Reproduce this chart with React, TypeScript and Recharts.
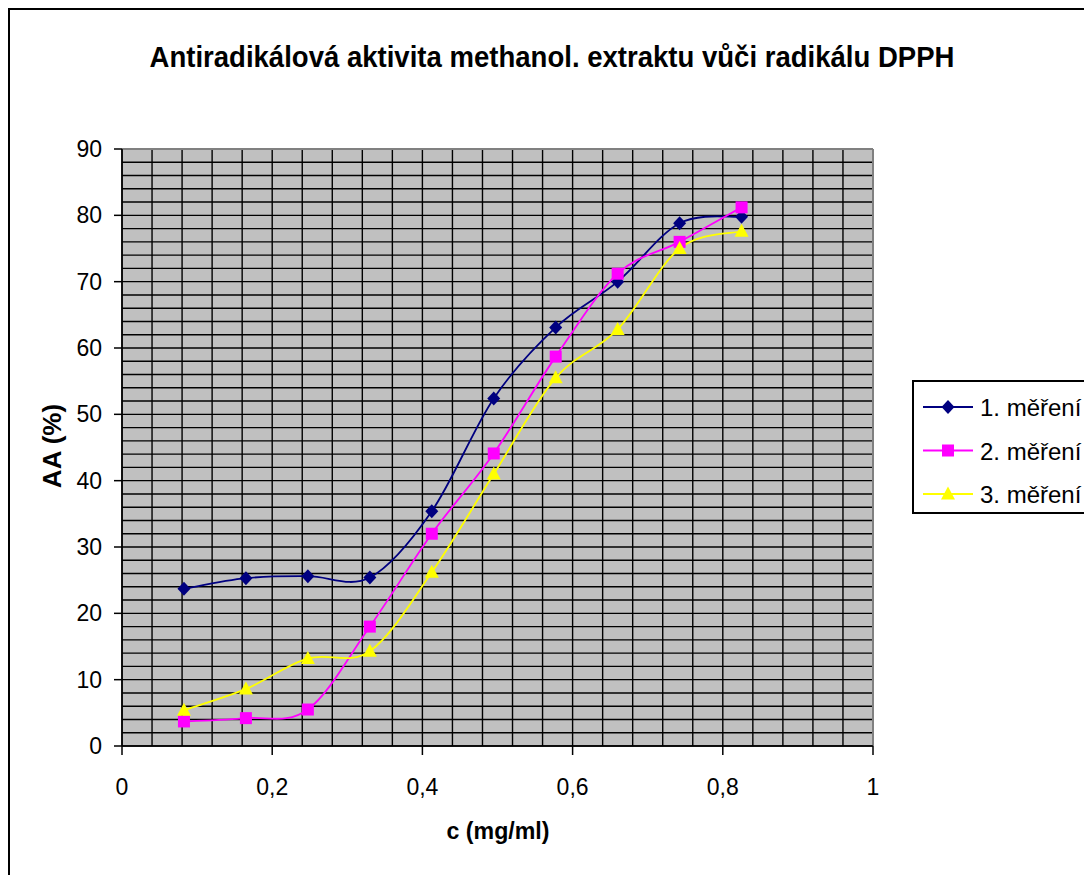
import React from 'react';
import { LineChart, Line, XAxis, YAxis, CartesianGrid, ReferenceLine } from 'recharts';

// concentrations (mg/ml)
const conc = [0.0825, 0.165, 0.2475, 0.33, 0.4125, 0.495, 0.5775, 0.66, 0.7425, 0.825];
// antiradical activity (%) for each measurement
const mereni1 = [23.7, 25.3, 25.6, 25.4, 35.4, 52.4, 63.1, 70.0, 78.8, 79.8];
const mereni2 = [3.7, 4.2, 5.5, 18.0, 32.0, 44.1, 58.7, 71.2, 76.0, 81.2];
const mereni3 = [5.4, 8.6, 13.2, 14.3, 26.2, 41.0, 55.5, 62.8, 75.0, 77.6];

const xTicks = [0, 0.2, 0.4, 0.6, 0.8, 1];
const yTicks = [0, 10, 20, 30, 40, 50, 60, 70, 80, 90];
// fine grid lines (every 0.04 and every 2 %)
const xGrid = Array.from({ length: 25 }, (_, i) => i * 0.04);
const yGrid = Array.from({ length: 45 }, (_, i) => i * 2);

const seriesNames = ['1. měření', '2. měření', '3. měření'];
const seriesColors = ['#000080', '#FF00FF', '#FFFF00'];

const data = conc.map((c, i) => ({ c, s1: mereni1[i], s2: mereni2[i], s3: mereni3[i] }));

// Excel-like smoothed line (Catmull-Rom)
const smooth = (context: any) => {
  let pts: number[][] = [];
  return {
    areaStart() {},
    areaEnd() {},
    lineStart() {
      pts = [];
    },
    lineEnd() {
      if (!pts.length) return;
      context.moveTo(pts[0][0], pts[0][1]);
      for (let i = 0; i < pts.length - 1; i++) {
        const p0 = pts[Math.max(i - 1, 0)];
        const p1 = pts[i];
        const p2 = pts[i + 1];
        const p3 = pts[Math.min(i + 2, pts.length - 1)];
        const t = 1 / 6;
        context.bezierCurveTo(
          p1[0] + (p2[0] - p0[0]) * t,
          p1[1] + (p2[1] - p0[1]) * t,
          p2[0] - (p3[0] - p1[0]) * t,
          p2[1] - (p3[1] - p1[1]) * t,
          p2[0],
          p2[1]
        );
      }
    },
    point(x: number, y: number) {
      pts.push([+x, +y]);
    },
  };
};

const Marker = ({ kind, cx, cy, color }: { kind: number; cx: number; cy: number; color: string }) => {
  if (cx == null || cy == null) return null;
  if (kind === 0) {
    return <path d={`M${cx},${cy - 7} L${cx + 6.5},${cy} L${cx},${cy + 7} L${cx - 6.5},${cy} Z`} fill={color} />;
  }
  if (kind === 1) {
    return <rect x={cx - 6} y={cy - 6} width={12} height={12} fill={color} />;
  }
  return <path d={`M${cx},${cy - 7.5} L${cx + 7},${cy + 5.5} L${cx - 7},${cy + 5.5} Z`} fill={color} />;
};

const fmt = (v: number) => String(v).replace('.', ',');
const font = 'Liberation Sans, Arial, sans-serif';

const LegendBox = () => (
  <g transform="translate(913,381)">
    <rect x={0} y={0} width={200} height={132} fill="#fff" stroke="#000" strokeWidth={2} />
    {seriesNames.map((name, i) => {
      const y = 26 + i * 43.5;
      return (
        <g key={name}>
          <line x1={10} x2={60} y1={y} y2={y} stroke={seriesColors[i]} strokeWidth={2} />
          <Marker kind={i} cx={35} cy={y} color={seriesColors[i]} />
          <text x={67} y={y + 9} fontSize={24} fontFamily={font}>
            {name}
          </text>
        </g>
      );
    })}
  </g>
);

export default function App() {
  return (
    <div style={{ position: 'absolute', left: 0, top: 0, width: 1084, height: 875, background: '#fff', overflow: 'hidden' }}>
      <LineChart width={1084} height={875} data={data} margin={{ top: 149, right: 211, bottom: 69, left: 62 }}>
        <CartesianGrid
          fill="#C0C0C0"
          stroke="#000"
          strokeWidth={1.4}
          strokeOpacity={1}
          horizontalCoordinatesGenerator={({ yAxis, offset }: any) =>
            yGrid.map((v) =>
              yAxis && typeof yAxis.scale === 'function'
                ? yAxis.scale(v)
                : offset.top + offset.height * (1 - v / 90)
            )
          }
          verticalCoordinatesGenerator={({ xAxis, offset }: any) =>
            xGrid.map((v) =>
              xAxis && typeof xAxis.scale === 'function' ? xAxis.scale(v) : offset.left + offset.width * v
            )
          }
        />
        <ReferenceLine y={90} stroke="#808080" strokeWidth={2} />
        <ReferenceLine x={1} stroke="#808080" strokeWidth={2} />
        <XAxis
          dataKey="c"
          type="number"
          domain={[0, 1]}
          ticks={xTicks}
          tickFormatter={fmt}
          height={60}
          tickSize={9}
          tickMargin={24}
          axisLine={{ stroke: '#000', strokeWidth: 1.5 }}
          tickLine={{ stroke: '#000', strokeWidth: 1.5 }}
          tick={{ fill: '#000', fontSize: 23, fontFamily: font }}
          allowDataOverflow
        />
        <YAxis
          type="number"
          domain={[0, 90]}
          ticks={yTicks}
          width={60}
          tickSize={8}
          tickMargin={12}
          axisLine={{ stroke: '#000', strokeWidth: 1.5 }}
          tickLine={{ stroke: '#000', strokeWidth: 1.5 }}
          tick={{ fill: '#000', fontSize: 23, fontFamily: font }}
          allowDataOverflow
        />
        {['s1', 's2', 's3'].map((key, i) => (
          <Line
            key={key}
            dataKey={key}
            name={seriesNames[i]}
            type={smooth as any}
            stroke={seriesColors[i]}
            strokeWidth={1.8}
            dot={(p: any) => <Marker key={`${key}-${p.index}`} kind={i} cx={p.cx} cy={p.cy} color={seriesColors[i]} />}
            activeDot={false}
            isAnimationActive={false}
          />
        ))}
      </LineChart>
      <svg
        width={1084}
        height={875}
        style={{ position: 'absolute', left: 0, top: 0, pointerEvents: 'none' }}
      >
        <rect x={9} y={9} width={1100} height={900} fill="none" stroke="#000" strokeWidth={2} />
        <text
          x={552}
          y={67}
          textAnchor="middle"
          fontSize={29}
          fontWeight="bold"
          fontFamily={font}
          textLength={805}
          lengthAdjust="spacingAndGlyphs"
        >
          Antiradikálová aktivita methanol. extraktu vůči radikálu DPPH
        </text>
        <text
          x={498}
          y={839}
          textAnchor="middle"
          fontSize={24}
          fontWeight="bold"
          fontFamily={font}
          textLength={103}
          lengthAdjust="spacingAndGlyphs"
        >
          c (mg/ml)
        </text>
        <text
          transform="translate(61,446) rotate(-90)"
          textAnchor="middle"
          fontSize={26}
          fontWeight="bold"
          fontFamily={font}
        >
          AA (%)
        </text>
        <LegendBox />
      </svg>
    </div>
  );
}
